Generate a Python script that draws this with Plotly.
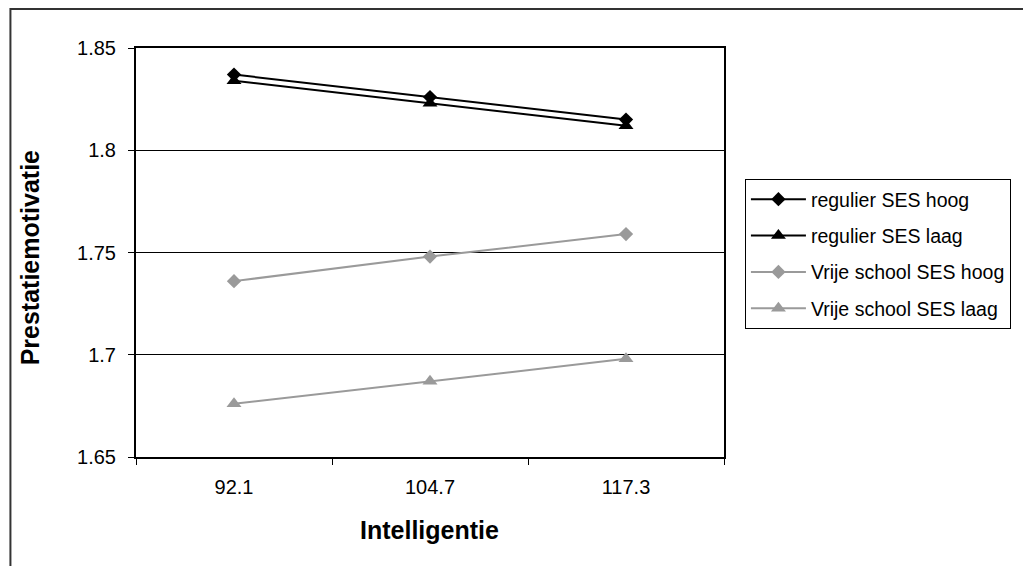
import plotly.graph_objects as go

categories = ["92.1", "104.7", "117.3"]
reg_hoog = [1.837, 1.826, 1.815]
reg_laag = [1.834, 1.823, 1.812]
vs_hoog = [1.736, 1.748, 1.759]
vs_laag = [1.676, 1.687, 1.698]
y_ticks = [1.65, 1.7, 1.75, 1.8, 1.85]
y_ticklabels = ["1.65", "1.7", "1.75", "1.8", "1.85"]

W, H = 1023, 566
L, R, T, B = 136, 726, 48, 457

BLACK = "#000000"
GRAY = "#9a9a9a"
FONT = "Liberation Sans, Arial, sans-serif"

series = [
    ("regulier SES hoog", reg_hoog, BLACK, "diamond", 11),
    ("regulier SES laag", reg_laag, BLACK, "triangle-up", 13),
    ("Vrije school SES hoog", vs_hoog, GRAY, "diamond", 11),
    ("Vrije school SES laag", vs_laag, GRAY, "triangle-up", 13),
]

fig = go.Figure()
for i, (name, vals, col, sym, sz) in enumerate(series):
    fig.add_trace(go.Scatter(
        x=categories, y=vals, name=name, mode="lines+markers",
        line=dict(color=col, width=2),
        marker=dict(symbol=sym, size=sz, color=col),
        legendgroup=f"g{i}",
    ))

def px_x(p):
    return (p - L) / (R - L)

def px_y(p):
    return 1 - (p - T) / (B - T)

fig.update_layout(
    width=W, height=H,
    margin=dict(l=L, r=W - R, t=T, b=H - B),
    paper_bgcolor="white", plot_bgcolor="white",
    font=dict(family=FONT, size=20, color="black"),
    showlegend=True,
    legend=dict(
        x=px_x(747), y=px_y(179), xanchor="left", yanchor="top",
        bordercolor="black", borderwidth=1, bgcolor="white",
        font=dict(family=FONT, size=19.5, color="black"),
        itemwidth=55, tracegroupgap=8,
    ),
    xaxis=dict(
        type="category", range=[-0.5, 2.5],
        showline=True, linecolor="black", linewidth=2, mirror=True,
        ticks="outside", tickson="boundaries", ticklen=6, tickcolor="black",
        tickwidth=1, showgrid=False, zeroline=False,
        tickfont=dict(family=FONT, size=20, color="black"),
        ticklabelstandoff=11,
    ),
    yaxis=dict(
        range=[1.65, 1.85], tickvals=y_ticks, ticktext=y_ticklabels,
        showline=True, linecolor="black", linewidth=2, mirror=True,
        ticks="outside", ticklen=6, tickcolor="black", tickwidth=1,
        showgrid=True, gridcolor="black", gridwidth=1, zeroline=False,
        tickfont=dict(family=FONT, size=20, color="black"),
        ticklabelstandoff=8,
    ),
    shapes=[dict(
        type="rect", xref="paper", yref="paper",
        x0=px_x(10), x1=px_x(1040), y0=px_y(590), y1=px_y(9),
        line=dict(color="#333333", width=2), fillcolor="rgba(0,0,0,0)",
        layer="below",
    )],
    annotations=[
        dict(text="<b>Intelligentie</b>", xref="paper", yref="paper",
             x=px_x(430), y=px_y(530), xanchor="center", yanchor="middle",
             showarrow=False, font=dict(family=FONT, size=25, color="black")),
        dict(text="<b>Prestatiemotivatie</b>", xref="paper", yref="paper",
             x=px_x(30), y=px_y(258), xanchor="center", yanchor="middle",
             textangle=-90, showarrow=False,
             font=dict(family=FONT, size=25, color="black")),
    ],
)

fig.write_html("out.html")
